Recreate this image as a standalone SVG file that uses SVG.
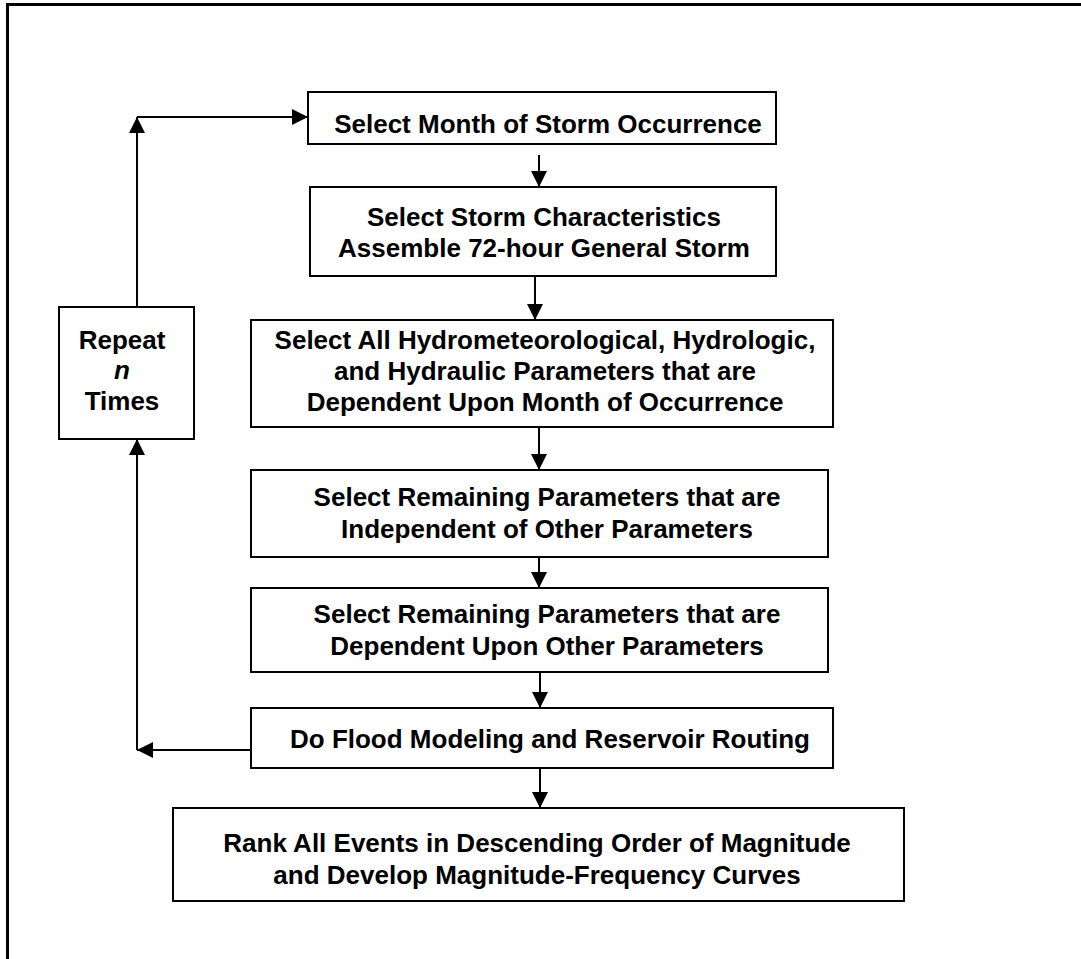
<svg xmlns="http://www.w3.org/2000/svg" width="1081" height="959" viewBox="0 0 1081 959">
<style>
.box{fill:#fff;stroke:#000;stroke-width:2}
.t{font-family:"Liberation Sans",Arial,sans-serif;font-weight:bold;font-size:26px;fill:#000;text-anchor:middle}
.c{fill:none;stroke:#000;stroke-width:2}
</style>
<defs>
<marker id="ah" markerUnits="userSpaceOnUse" markerWidth="16" markerHeight="16" viewBox="0 0 15 15" refX="15" refY="7.5" orient="auto">
<path d="M0,0 L15,7.5 L0,15 z" fill="#000"/>
</marker>
</defs>
<rect x="0" y="0" width="1081" height="959" fill="#fff"/>
<path d="M7.5,959 V4.5 H1081" fill="none" stroke="#000" stroke-width="3"/>
<g id="connectors">
<line class="c" x1="137" y1="307" x2="137" y2="117" marker-end="url(#ah)"/>
<line class="c" x1="137" y1="117" x2="308" y2="117" marker-end="url(#ah)"/>
<line class="c" x1="251" y1="750" x2="137" y2="750" marker-end="url(#ah)"/>
<line class="c" x1="137" y1="750" x2="137" y2="439" marker-end="url(#ah)"/>
<line class="c" x1="539" y1="155" x2="539" y2="187" marker-end="url(#ah)"/>
<line class="c" x1="535" y1="276" x2="535" y2="320" marker-end="url(#ah)"/>
<line class="c" x1="539" y1="427" x2="539" y2="470" marker-end="url(#ah)"/>
<line class="c" x1="539" y1="557" x2="539" y2="588" marker-end="url(#ah)"/>
<line class="c" x1="540" y1="672" x2="540" y2="708" marker-end="url(#ah)"/>
<line class="c" x1="540" y1="768" x2="540" y2="808" marker-end="url(#ah)"/>
</g>
<g id="n1">
<rect class="box" x="308" y="92" width="468" height="52"/>
<text class="t" x="548" y="133">Select Month of Storm Occurrence</text>
</g>
<g id="n2">
<rect class="box" x="310" y="187" width="466" height="89"/>
<text class="t" x="544" y="226">Select Storm Characteristics</text>
<text class="t" x="544" y="257">Assemble 72-hour General Storm</text>
</g>
<g id="n3">
<rect class="box" x="251" y="320" width="582" height="107"/>
<text class="t" x="545" y="349">Select All Hydrometeorological, Hydrologic,</text>
<text class="t" x="545" y="380">and Hydraulic Parameters that are</text>
<text class="t" x="545" y="411">Dependent Upon Month of Occurrence</text>
</g>
<g id="n4">
<rect class="box" x="251" y="470" width="577" height="87"/>
<text class="t" x="547" y="506">Select Remaining Parameters that are</text>
<text class="t" x="547" y="538">Independent of Other Parameters</text>
</g>
<g id="n5">
<rect class="box" x="251" y="588" width="577" height="84"/>
<text class="t" x="547" y="623">Select Remaining Parameters that are</text>
<text class="t" x="547" y="655">Dependent Upon Other Parameters</text>
</g>
<g id="n6">
<rect class="box" x="251" y="708" width="582" height="60"/>
<text class="t" x="550" y="748">Do Flood Modeling and Reservoir Routing</text>
</g>
<g id="n7">
<rect class="box" x="173" y="808" width="731" height="93"/>
<text class="t" x="537" y="852">Rank All Events in Descending Order of Magnitude</text>
<text class="t" x="537" y="884">and Develop Magnitude-Frequency Curves</text>
</g>
<g id="repeat">
<rect class="box" x="59" y="307" width="135" height="132"/>
<text class="t" x="122" y="349">Repeat</text>
<text class="t" x="122" y="379" font-style="italic">n</text>
<text class="t" x="122" y="410">Times</text>
</g>
</svg>
